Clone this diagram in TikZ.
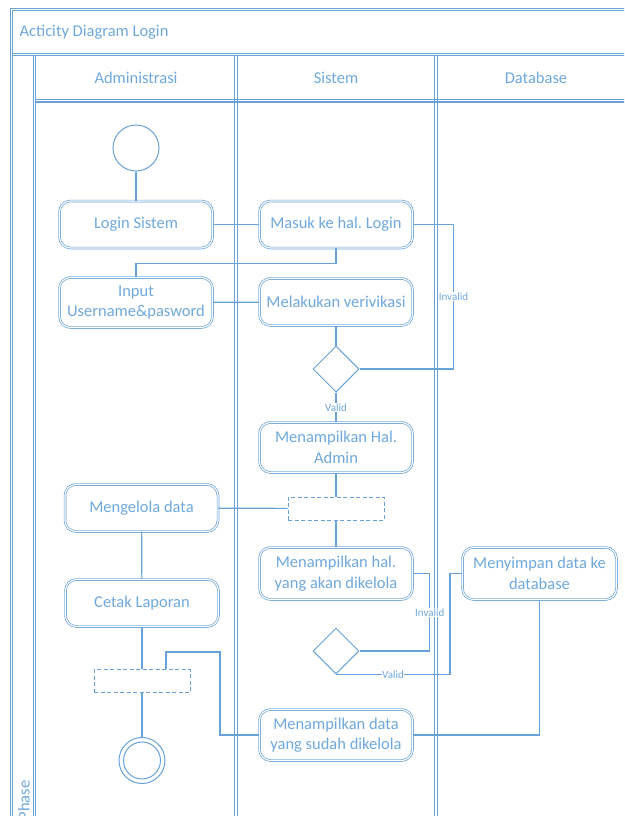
\documentclass[tikz,border=0pt]{standalone}
\usepackage{fontspec}
\setmainfont{Carlito}
\usetikzlibrary{shapes.geometric,calc}
\frenchspacing
\definecolor{lc}{RGB}{104,162,216}
\definecolor{tc}{RGB}{110,168,220}
\tikzset{
  fl/.style={draw=lc,line width=0.9pt},
  act/.style={rectangle,rounded corners=11pt,draw=lc,line width=0.7pt,double=white,double distance=1.1pt,
    minimum width=153pt,minimum height=47pt,align=center,text=tc,font=\fontsize{16.5}{20.5}\selectfont,inner sep=1pt},
  dec/.style={diamond,draw=lc,line width=1pt,minimum width=46pt,minimum height=46pt,inner sep=0pt,fill=white},
  bar/.style={rectangle,draw=lc,line width=1pt,dashed,dash pattern=on 4pt off 2.5pt,minimum width=96pt,minimum height=23pt,inner sep=0pt},
  startnode/.style={circle,draw=lc,line width=1pt,minimum size=46pt,inner sep=0pt},
  conn/.style={draw=lc,line width=1.2pt},
  lbl/.style={fill=white,text=tc,font=\fontsize{11}{12}\selectfont,inner sep=0.6pt},
  hdr/.style={text=tc,font=\fontsize{16.5}{19}\selectfont}
}
\begin{document}
\begin{tikzpicture}[x=1pt,y=-1pt]
\useasboundingbox (0,0) rectangle (624,816);
\clip (0,0) rectangle (624,816);
% frame (double lines drawn as pairs)
\draw[fl] (630,8) -- (10,8) -- (10,822);
\draw[fl] (630,10.5) -- (12.5,10.5) -- (12.5,822);
\draw[fl] (12.5,53) -- (630,53);
\draw[fl] (12.5,55.5) -- (630,55.5);
\draw[fl] (33,55.5) -- (33,822);
\draw[fl] (35.5,55.5) -- (35.5,822);
\draw[fl] (35.5,99.5) -- (630,99.5);
\draw[fl,line width=1.4pt] (35.5,102) -- (630,102);
\draw[fl] (234.8,55.5) -- (234.8,822);
\draw[fl] (237.3,55.5) -- (237.3,822);
\draw[fl] (434.8,55.5) -- (434.8,822);
\draw[fl] (437.3,55.5) -- (437.3,822);
\node[hdr,anchor=west] (title) at (16,32) {Acticity Diagram Login};
\node[hdr] (h1) at (136,78) {Administrasi};
\node[hdr] (h2) at (336,78) {Sistem};
\node[hdr] (h3) at (536,78) {Database};
\node[hdr,rotate=90,anchor=east] (phase) at (24,777) {Phase};
% nodes
\node[startnode] (init) at (136,148) {};
\node[act] (login) at (136,224.5) {Login Sistem};
\node[act] (masuk) at (336,224.5) {Masuk ke hal. Login};
\node[act,minimum height=50pt] (input) at (136,302.5) {Input\\Username\&pasword};
\node[act] (verif) at (336,302) {Melakukan verivikasi};
\node[dec] (d1) at (336,369) {};
\node[act,minimum height=50pt] (admin) at (336,447.5) {Menampilkan Hal.\\Admin};
\node[bar] (fork) at (336,508.5) {};
\node[act] (kelola) at (141.5,508) {Mengelola data};
\node[act,minimum height=52pt] (tampil) at (336,573.5) {Menampilkan hal.\\yang akan dikelola};
\node[act] (cetak) at (142,603) {Cetak Laporan};
\node[act,minimum height=52pt,minimum width=154pt] (simpan) at (539.5,573.5) {Menyimpan data ke\\database};
\node[dec] (d2) at (336,651) {};
\node[bar] (join) at (142,681) {};
\node[startnode] (final) at (142,760.5) {};
\draw[lc,line width=1pt] (final.center) circle[radius=18.5];
\node[act,minimum height=51pt] (shown) at (336,735) {Menampilkan data\\yang sudah dikelola};
\coordinate (c1) at (220,652);
\coordinate (c2) at (166,652);
% connectors
\draw[conn] (init) -- (login);
\draw[conn] (login) -- (masuk);
\draw[conn] (masuk.south) -- ++(0,15.5) -| (input.north);
\draw[conn] (input) -- (verif);
\draw[conn] (verif) -- (d1);
\draw[conn] (d1.east) -- ++(94,0) |- (masuk.east) node[lbl,pos=0.25] {Invalid};
\draw[conn] (d1) -- node[lbl] {Valid} (admin);
\draw[conn] (admin) -- (fork);
\draw[conn] (fork) -- (kelola);
\draw[conn] (fork) -- (tampil);
\draw[conn] (kelola) -- (cetak);
\draw[conn] (tampil.east) -- ++(17,0) |- (d2.east) node[lbl,pos=0.25] {Invalid};
\draw[conn] (d2.south) -- node[lbl] {Valid} ++(114,0) |- (simpan.west);
\draw[conn] (simpan.south) |- (shown.east);
\draw[conn] (shown.west) -| (c1) -- (c2) -- (c2 |- join.north);
\draw[conn] (cetak) -- (join);
\draw[conn] (join) -- (final);
\end{tikzpicture}
\end{document}
